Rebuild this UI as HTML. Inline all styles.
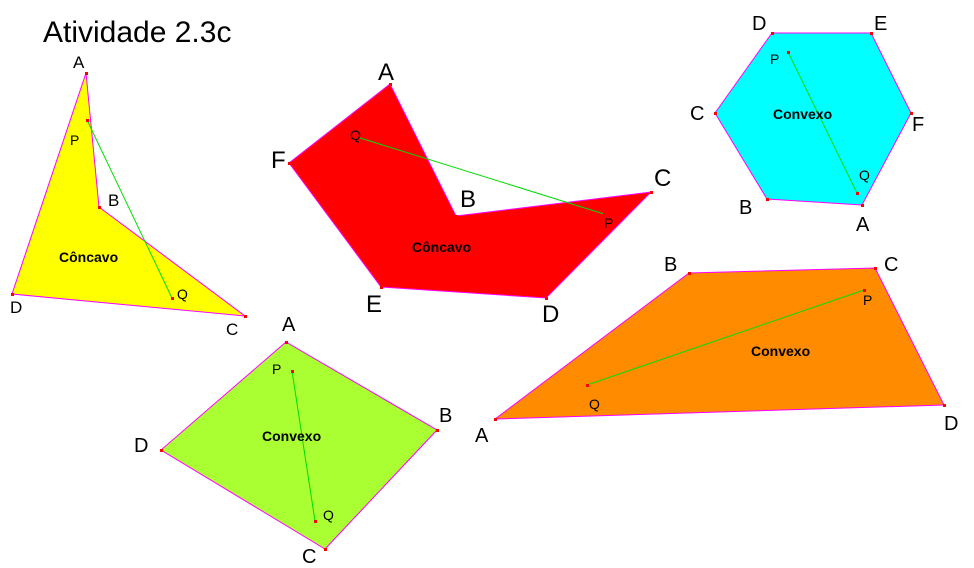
<!DOCTYPE html>
<html><head><meta charset="utf-8"><style>
html,body{margin:0;padding:0;background:#fff;}
svg{display:block;font-family:"Liberation Sans",Arial,sans-serif;}
.l{font-size:20px;fill:#000;}
.s{font-size:14px;fill:#000;}
.c{font-size:14px;font-weight:bold;fill:#000;}
</style></head><body>
<svg width="974" height="568" viewBox="0 0 974 568" xmlns="http://www.w3.org/2000/svg">
<rect width="974" height="568" fill="#fff"/>
<text x="43" y="42" style="font-size:30px">Atividade 2.3c</text>

<g stroke="#ff00ff" stroke-width="1">
<polygon points="86,73 99,207 245,316 12,294" fill="#ffff00"/>
<polygon points="390,84 456,216 651,192 546,298 381,287 289,163" fill="#ff0000"/>
<polygon points="772,33 871,33 911,113 862,205 767,199 715,113" fill="#00ffff"/>
<polygon points="495,419 689,273 875,268 944,405" fill="#ff8c00"/>
<polygon points="286,342 437,430 325,549 161,450" fill="#aaff33"/>
</g>
<g stroke="#00dd00" stroke-width="1">
<line x1="87" y1="120" x2="172" y2="298"/>
<line x1="357" y1="137" x2="604" y2="214"/>
<line x1="788" y1="52" x2="857" y2="193"/>
<line x1="864" y1="290" x2="587" y2="385"/>
<line x1="292" y1="371" x2="315" y2="521"/>
</g>
<g fill="#ff0000">
<rect x="85" y="72" width="3" height="3"/><rect x="98" y="206" width="3" height="3"/><rect x="244" y="315" width="3" height="3"/><rect x="11" y="293" width="3" height="3"/><rect x="86" y="119" width="3" height="3"/><rect x="171" y="297" width="3" height="3"/>
<rect x="389" y="83" width="3" height="3"/><rect x="455" y="215" width="3" height="3"/><rect x="650" y="191" width="3" height="3"/><rect x="545" y="297" width="3" height="3"/><rect x="380" y="286" width="3" height="3"/><rect x="288" y="162" width="3" height="3"/><rect x="356" y="136" width="3" height="3"/><rect x="603" y="213" width="3" height="3"/>
<rect x="771" y="32" width="3" height="3"/><rect x="870" y="32" width="3" height="3"/><rect x="910" y="112" width="3" height="3"/><rect x="861" y="204" width="3" height="3"/><rect x="766" y="198" width="3" height="3"/><rect x="714" y="112" width="3" height="3"/><rect x="787" y="51" width="3" height="3"/><rect x="856" y="192" width="3" height="3"/>
<rect x="494" y="418" width="3" height="3"/><rect x="688" y="272" width="3" height="3"/><rect x="874" y="267" width="3" height="3"/><rect x="943" y="404" width="3" height="3"/><rect x="863" y="289" width="3" height="3"/><rect x="586" y="384" width="3" height="3"/>
<rect x="285" y="341" width="3" height="3"/><rect x="436" y="429" width="3" height="3"/><rect x="324" y="548" width="3" height="3"/><rect x="160" y="449" width="3" height="3"/><rect x="291" y="370" width="3" height="3"/><rect x="314" y="520" width="3" height="3"/>
</g>

<text class="s" x="73" y="68" style="font-size:17px">A</text>
<text class="s" x="108" y="206" style="font-size:17px">B</text>
<text class="s" x="226" y="335" style="font-size:17px">C</text>
<text class="s" x="10" y="313" style="font-size:17px">D</text>
<text class="s" x="70" y="145">P</text>
<text class="s" x="177" y="299">Q</text>
<text class="c" x="59" y="262">Côncavo</text>

<text class="l" x="378" y="80" style="font-size:24px">A</text>
<text class="l" x="460" y="207" style="font-size:24px">B</text>
<text class="l" x="654" y="186" style="font-size:24px">C</text>
<text class="l" x="542" y="322" style="font-size:24px">D</text>
<text class="l" x="366" y="312" style="font-size:24px">E</text>
<text class="l" x="271" y="168" style="font-size:24px">F</text>
<text class="s" x="350" y="140">Q</text>
<text class="s" x="604" y="228">P</text>
<text class="c" x="412" y="252">Côncavo</text>

<text class="l" x="752" y="30">D</text>
<text class="l" x="874" y="30">E</text>
<text class="l" x="912" y="131">F</text>
<text class="l" x="856" y="231">A</text>
<text class="l" x="739" y="214">B</text>
<text class="l" x="690" y="120">C</text>
<text class="s" x="770" y="64">P</text>
<text class="s" x="859" y="180">Q</text>
<text class="c" x="773" y="119">Convexo</text>

<text class="l" x="475" y="442">A</text>
<text class="l" x="664" y="271">B</text>
<text class="l" x="884" y="271">C</text>
<text class="l" x="944" y="430">D</text>
<text class="s" x="863" y="305">P</text>
<text class="s" x="589" y="409">Q</text>
<text class="c" x="751" y="356">Convexo</text>

<text class="l" x="282" y="331">A</text>
<text class="l" x="439" y="422">B</text>
<text class="l" x="302" y="563">C</text>
<text class="l" x="134" y="452">D</text>
<text class="s" x="272" y="374">P</text>
<text class="s" x="323" y="520">Q</text>
<text class="c" x="262" y="441">Convexo</text>
</svg>
</body></html>
